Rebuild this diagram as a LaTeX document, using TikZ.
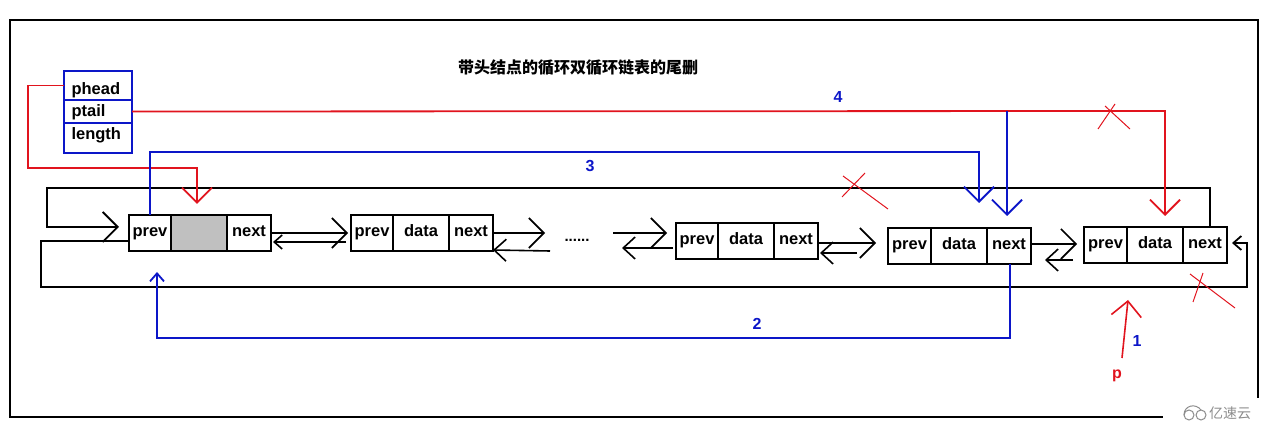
\documentclass[tikz,border=0pt]{standalone}
\usepackage{fontspec}
\setmainfont{Liberation Sans}
\newfontfamily\cjk{Noto Sans CJK SC}
\usetikzlibrary{arrows.meta}
\definecolor{myred}{RGB}{225,20,30}
\definecolor{myblue}{RGB}{12,22,200}
\definecolor{cellgray}{RGB}{192,192,192}
\definecolor{wmgray}{RGB}{140,140,140}
\begin{document}
\begin{tikzpicture}[x=1pt,y=-1pt,
  cell/.style={draw=black, line width=1.6pt, inner sep=0pt, outer sep=0pt, anchor=north west,
    minimum height=36pt, text height=12pt, text depth=4pt, font=\fontsize{16.5}{17}\selectfont\bfseries},
  scell/.style={draw=myblue, line width=1.6pt, inner sep=0pt, outer sep=0pt, anchor=north west,
    minimum width=68pt, text width=53pt, align=left,
    font=\fontsize{16.5}{17}\selectfont\bfseries},
  blk/.style={draw=black, line width=1.8pt},
  rln/.style={draw=myred, line width=1.8pt},
  bln/.style={draw=myblue, line width=1.8pt},
  xmark/.style={draw=myred, line width=1pt},
  abig/.style={-{Straight Barb[length=15pt,width=30pt]}},
  amid/.style={-{Straight Barb[length=12pt,width=22pt]}},
  asmall/.style={-{Straight Barb[length=8pt,width=14pt]}},
  lbl/.style={inner sep=0pt, font=\fontsize{16}{16}\selectfont\bfseries},
]
\useasboundingbox (0,0) rectangle (1272,427);
% frame
\draw[line width=2.4pt] (1258,398) -- (1258,20) -- (10,20) -- (10,417) -- (1163,417);
% title
\node[inner sep=0pt, font=\cjk\fontsize{16}{18}\selectfont\bfseries] (title) at (578,68) {带头结点的循环双循环链表的尾删};

% struct
\node[scell, minimum height=29pt, text height=20pt, text depth=2pt] (ph) at (64,71) {phead};
\node[scell, minimum height=23pt, text height=13pt, text depth=2pt] (pt) at (64,100) {ptail};
\node[scell, minimum height=30pt, text height=12pt, text depth=8pt] (len) at (64,123) {length};

% nodes
\node[cell, minimum width=42pt] (n1p) at (129,215) {prev};
\node[cell, minimum width=56pt, fill=cellgray] (n1d) at (171,215) {};
\node[cell, minimum width=44pt] (n1n) at (227,215) {next};

\node[cell, minimum width=42pt] (n2p) at (351,215) {prev};
\node[cell, minimum width=56pt] (n2d) at (393,215) {data};
\node[cell, minimum width=44pt] (n2n) at (449,215) {next};

\node[cell, minimum width=42pt] (n3p) at (676,223) {prev};
\node[cell, minimum width=56pt] (n3d) at (718,223) {data};
\node[cell, minimum width=44pt] (n3n) at (774,223) {next};

\node[cell, minimum width=43pt] (n4p) at (888,228) {prev};
\node[cell, minimum width=56pt] (n4d) at (931,228) {data};
\node[cell, minimum width=44pt] (n4n) at (987,228) {next};

\node[cell, minimum width=43pt] (n5p) at (1084,227) {prev};
\node[cell, minimum width=56pt] (n5d) at (1127,227) {data};
\node[cell, minimum width=44pt] (n5n) at (1183,227) {next};

\node[inner sep=0pt, font=\fontsize{15}{15}\selectfont\bfseries] (dots) at (577,240) {......};

% links between nodes
\coordinate (a2s) at (545,233);
\coordinate (a2r) at (550,251);
\coordinate (a3s) at (613,233);
\coordinate (a3t) at (667,233);
\coordinate (a3r) at (622,248);
\coordinate (a4t) at (876,243);
\coordinate (a4r) at (857,253);
\coordinate (a4rt) at (820,253);
\coordinate (a5t) at (1077,244);
\coordinate (a5r) at (1073,260);
\coordinate (a5rt) at (1045,260);

\draw[blk, line width=1.6pt, abig] (n1n.east) -- ([xshift=-3pt]n2p.west);
\draw[blk, line width=1.6pt, asmall] ([xshift=-5pt,yshift=-9pt]n2p.west) -- ([xshift=2pt,yshift=-9pt]n1n.east);
\draw[blk, line width=1.6pt, abig] (n2n.east) -- (a2s);
\draw[blk, line width=1.6pt, amid] (a2r) -- ([yshift=-17pt]n2n.east);
\draw[blk, line width=1.6pt, abig] (a3s) -- (a3t);
\draw[blk, line width=1.6pt, amid] ([yshift=-7pt,xshift=-3pt]n3p.west) -- (a3r);
\draw[blk, line width=1.6pt, abig] ([yshift=-2pt]n3n.east) -- (a4t);
\draw[blk, line width=1.6pt, amid] (a4r) -- (a4rt);
\draw[blk, line width=1.6pt, abig] ([yshift=2pt]n4n.east) -- (a5t);
\draw[blk, line width=1.6pt, amid] (a5r) -- (a5rt);

% circular links
\coordinate (ltop) at (119,227);
\coordinate (rtip) at (1232,243);
\draw[blk, abig] ([xshift=5pt]n5n.north) -- (1210,188) -- (47,188) -- (47,227) -- (ltop);
\draw[blk, asmall] ([yshift=-8pt]n1p.west) -- (41,241) -- (41,287) -- (1247,287) -- (1247,243) -- (rtip);

% phead / ptail
\coordinate (phtip) at (197,204);
\coordinate (pttip) at (1165,216);
\draw[rln, abig] (ph.west) -- (28,85.5) -- (28,168) -- (197,168) -- (phtip);
\draw[rln, abig] (pt.east) -- (1165,111) -- (pttip);

% blue steps
\coordinate (b4s) at (1007,111);
\coordinate (b4t) at (1007,216);
\coordinate (b3t) at (979,203);
\coordinate (b2t) at (157,272);
\draw[bln, abig] (b4s) -- (b4t);
\draw[bln, abig] (n1p.north) -- (150,152) -- (979,152) -- (b3t);
\draw[bln, asmall] ([xshift=1pt]n4n.south) -- (1010,338) -- (157,338) -- (b2t);

% p pointer
\coordinate (p1s) at (1122,358);
\coordinate (p1t) at (1128,300);
\draw[rln, line width=1.6pt, abig] (p1s) -- (p1t);

% labels
\node[lbl, text=myblue] (l3) at (590,166) {3};
\node[lbl, text=myblue] (l4) at (838,97) {4};
\node[lbl, text=myblue] (l2) at (757,324) {2};
\node[lbl, text=myblue] (l1) at (1137,341) {1};
\node[lbl, text=myred] (lp) at (1117,376) {p};

% X marks
\draw[xmark] (843,176) -- (888,209);
\draw[xmark] (865,173) -- (842,197);
\draw[xmark] (1098,129) -- (1115,104);
\draw[xmark] (1105,106) -- (1130,129);
\draw[xmark] (1190,274) -- (1235,308);
\draw[xmark] (1203,273) -- (1193,302);

% watermark
\draw[wmgray, line width=1pt] (1189,415) circle (5pt) (1201,415) circle (5pt);
\draw[wmgray, line width=1pt] (1184,415) .. controls (1184,405) and (1196,403) .. (1201,410);
\node[inner sep=0pt, text=wmgray, font=\cjk\fontsize{14}{14}\selectfont] (wm) at (1230,413) {亿速云};
\end{tikzpicture}
\end{document}
